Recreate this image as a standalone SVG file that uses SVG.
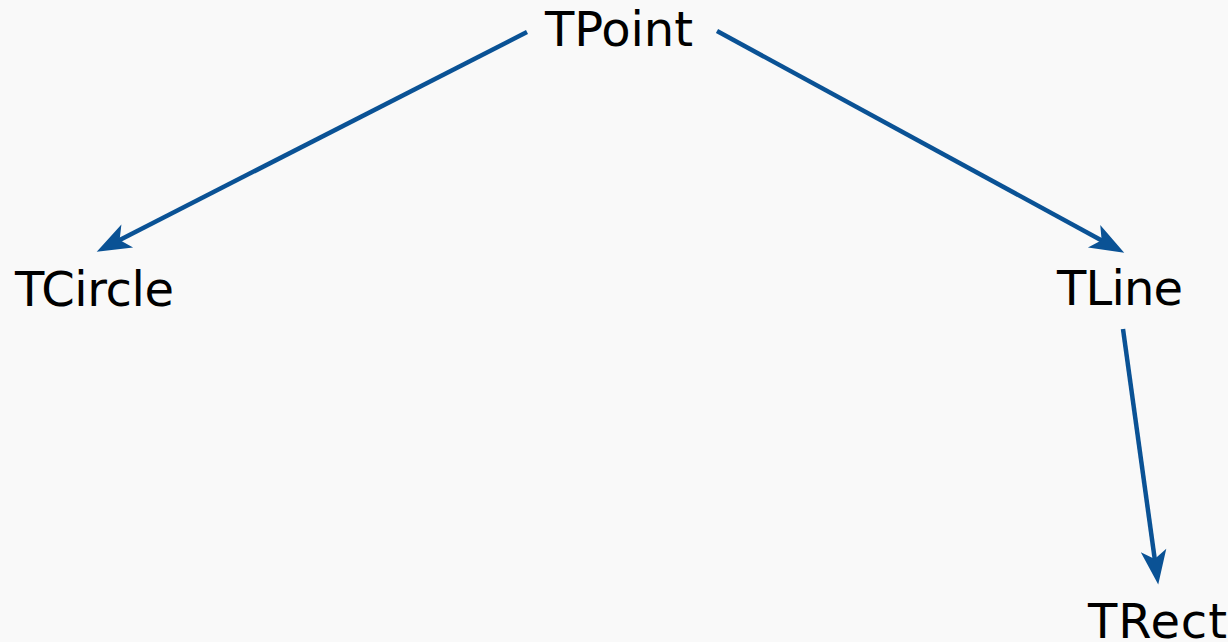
<svg xmlns="http://www.w3.org/2000/svg" width="1228" height="642" viewBox="0 0 1228 642">
  <style>
    .lbl { font-family: "DejaVu Sans", Verdana, sans-serif; font-size: 48px; fill: #000; }
    .edge { stroke: #0a5295; stroke-width: 4.5; fill: none; marker-end: url(#arr); }
  </style>
  <defs>
    <marker id="arr" markerUnits="userSpaceOnUse" markerWidth="40" markerHeight="30" viewBox="-14 -14 36 28" refX="0" refY="0" orient="auto">
      <path d="M20,0 L-12,-12 L-4,0 L-12,12 Z" fill="#0a5295"/>
    </marker>
  </defs>
  <rect width="1228" height="642" fill="#f9f9f9"/>
  <g id="connectors">
    <line class="edge" x1="527" y1="32" x2="115.8" y2="241.9"/>
    <line class="edge" x1="717" y1="31" x2="1105.4" y2="242.4"/>
    <line class="edge" x1="1123" y1="329" x2="1155.3" y2="563.2"/>
  </g>
  <g id="TPoint"><text class="lbl" x="545" y="46" textLength="148">TPoint</text></g>
  <g id="TCircle"><text class="lbl" x="15" y="306" textLength="159">TCircle</text></g>
  <g id="TLine"><text class="lbl" x="1057" y="305" textLength="126">TLine</text></g>
  <g id="TRect"><text class="lbl" x="1088" y="638" textLength="139">TRect</text></g>
</svg>
